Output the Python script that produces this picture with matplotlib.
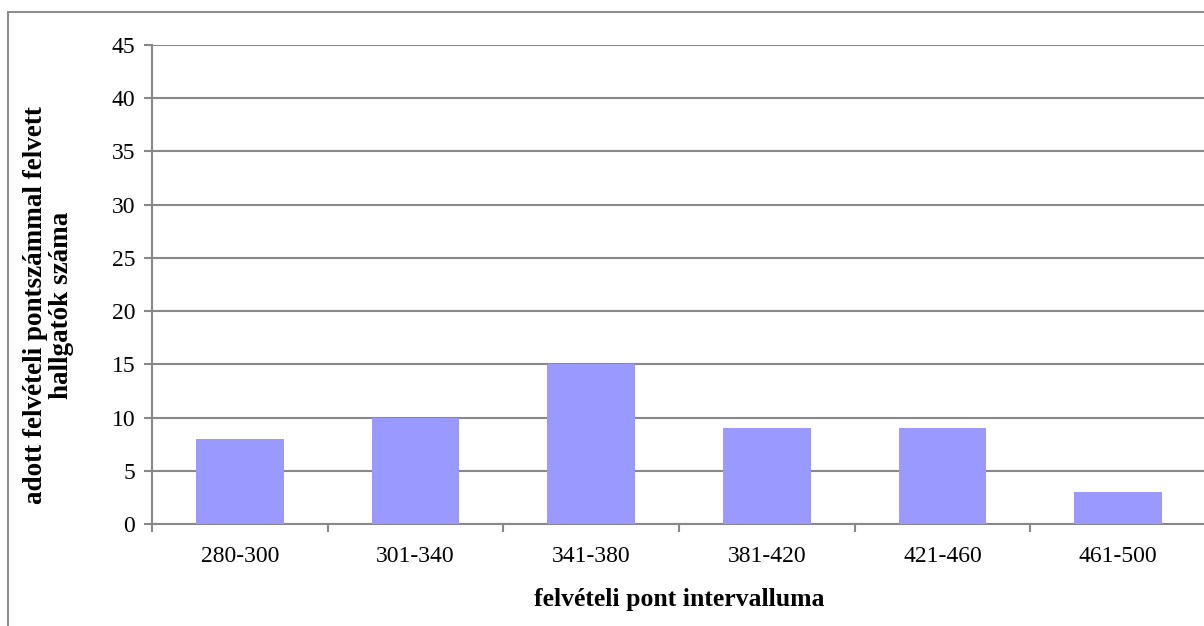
import matplotlib.pyplot as plt
from matplotlib.patches import Rectangle

categories = ['280-300', '301-340', '341-380', '381-420', '421-460', '461-500']
counts = [8, 10, 15, 9, 9, 3]
y_ticks = [0, 5, 10, 15, 20, 25, 30, 35, 40, 45]

plt.rcParams['font.family'] = ['Liberation Serif', 'DejaVu Serif']

fig = plt.figure(figsize=(12.04, 6.26), dpi=100)
ax = fig.add_axes([152 / 1204, 1 - 524 / 626, 1054 / 1204, 479 / 626])

# outer chart frame (right and bottom edges fall outside the canvas)
fig.patches.append(Rectangle((8 / 1204, -0.05), 1.1, 1.05 - 12 / 626,
                             transform=fig.transFigure, fill=False,
                             edgecolor='#8c8c8c', linewidth=1.5))

x = range(len(categories))
ax.bar(x, counts, width=0.5, color='#9999FF', zorder=3)

ax.set_xlim(-0.5, len(categories) - 0.5)
ax.set_ylim(0, 45)
ax.set_yticks(y_ticks)
ax.yaxis.grid(True, color='#888888', linewidth=1.5, zorder=0)

# category labels centred, ticks on category boundaries
ax.set_xticks(list(x))
ax.set_xticklabels(categories, fontsize=17)
ax.tick_params(axis='x', length=0, pad=16)
ax.set_xticks([i - 0.5 for i in range(len(categories) + 1)], minor=True)
ax.tick_params(axis='x', which='minor', length=6, width=1.5, color='#888888',
               direction='out')
ax.tick_params(axis='y', length=6, width=1.5, color='#888888', labelsize=17,
               pad=6)

for side in ['top', 'right']:
    ax.spines[side].set_visible(False)
for side in ['left', 'bottom']:
    ax.spines[side].set_color('#888888')
    ax.spines[side].set_linewidth(1.5)

ax.set_xlabel('felvételi pont intervalluma', fontsize=18.5, fontweight='bold')
ax.xaxis.set_label_coords(0.5, -64 / 479)
ax.set_ylabel('adott felvételi pontszámmal felvett\nhallgatók száma',
              fontsize=19.5, fontweight='bold', linespacing=1.05)
ax.yaxis.set_label_coords(-78 / 1054, 0.457)

fig.savefig('out.png', dpi=100)
